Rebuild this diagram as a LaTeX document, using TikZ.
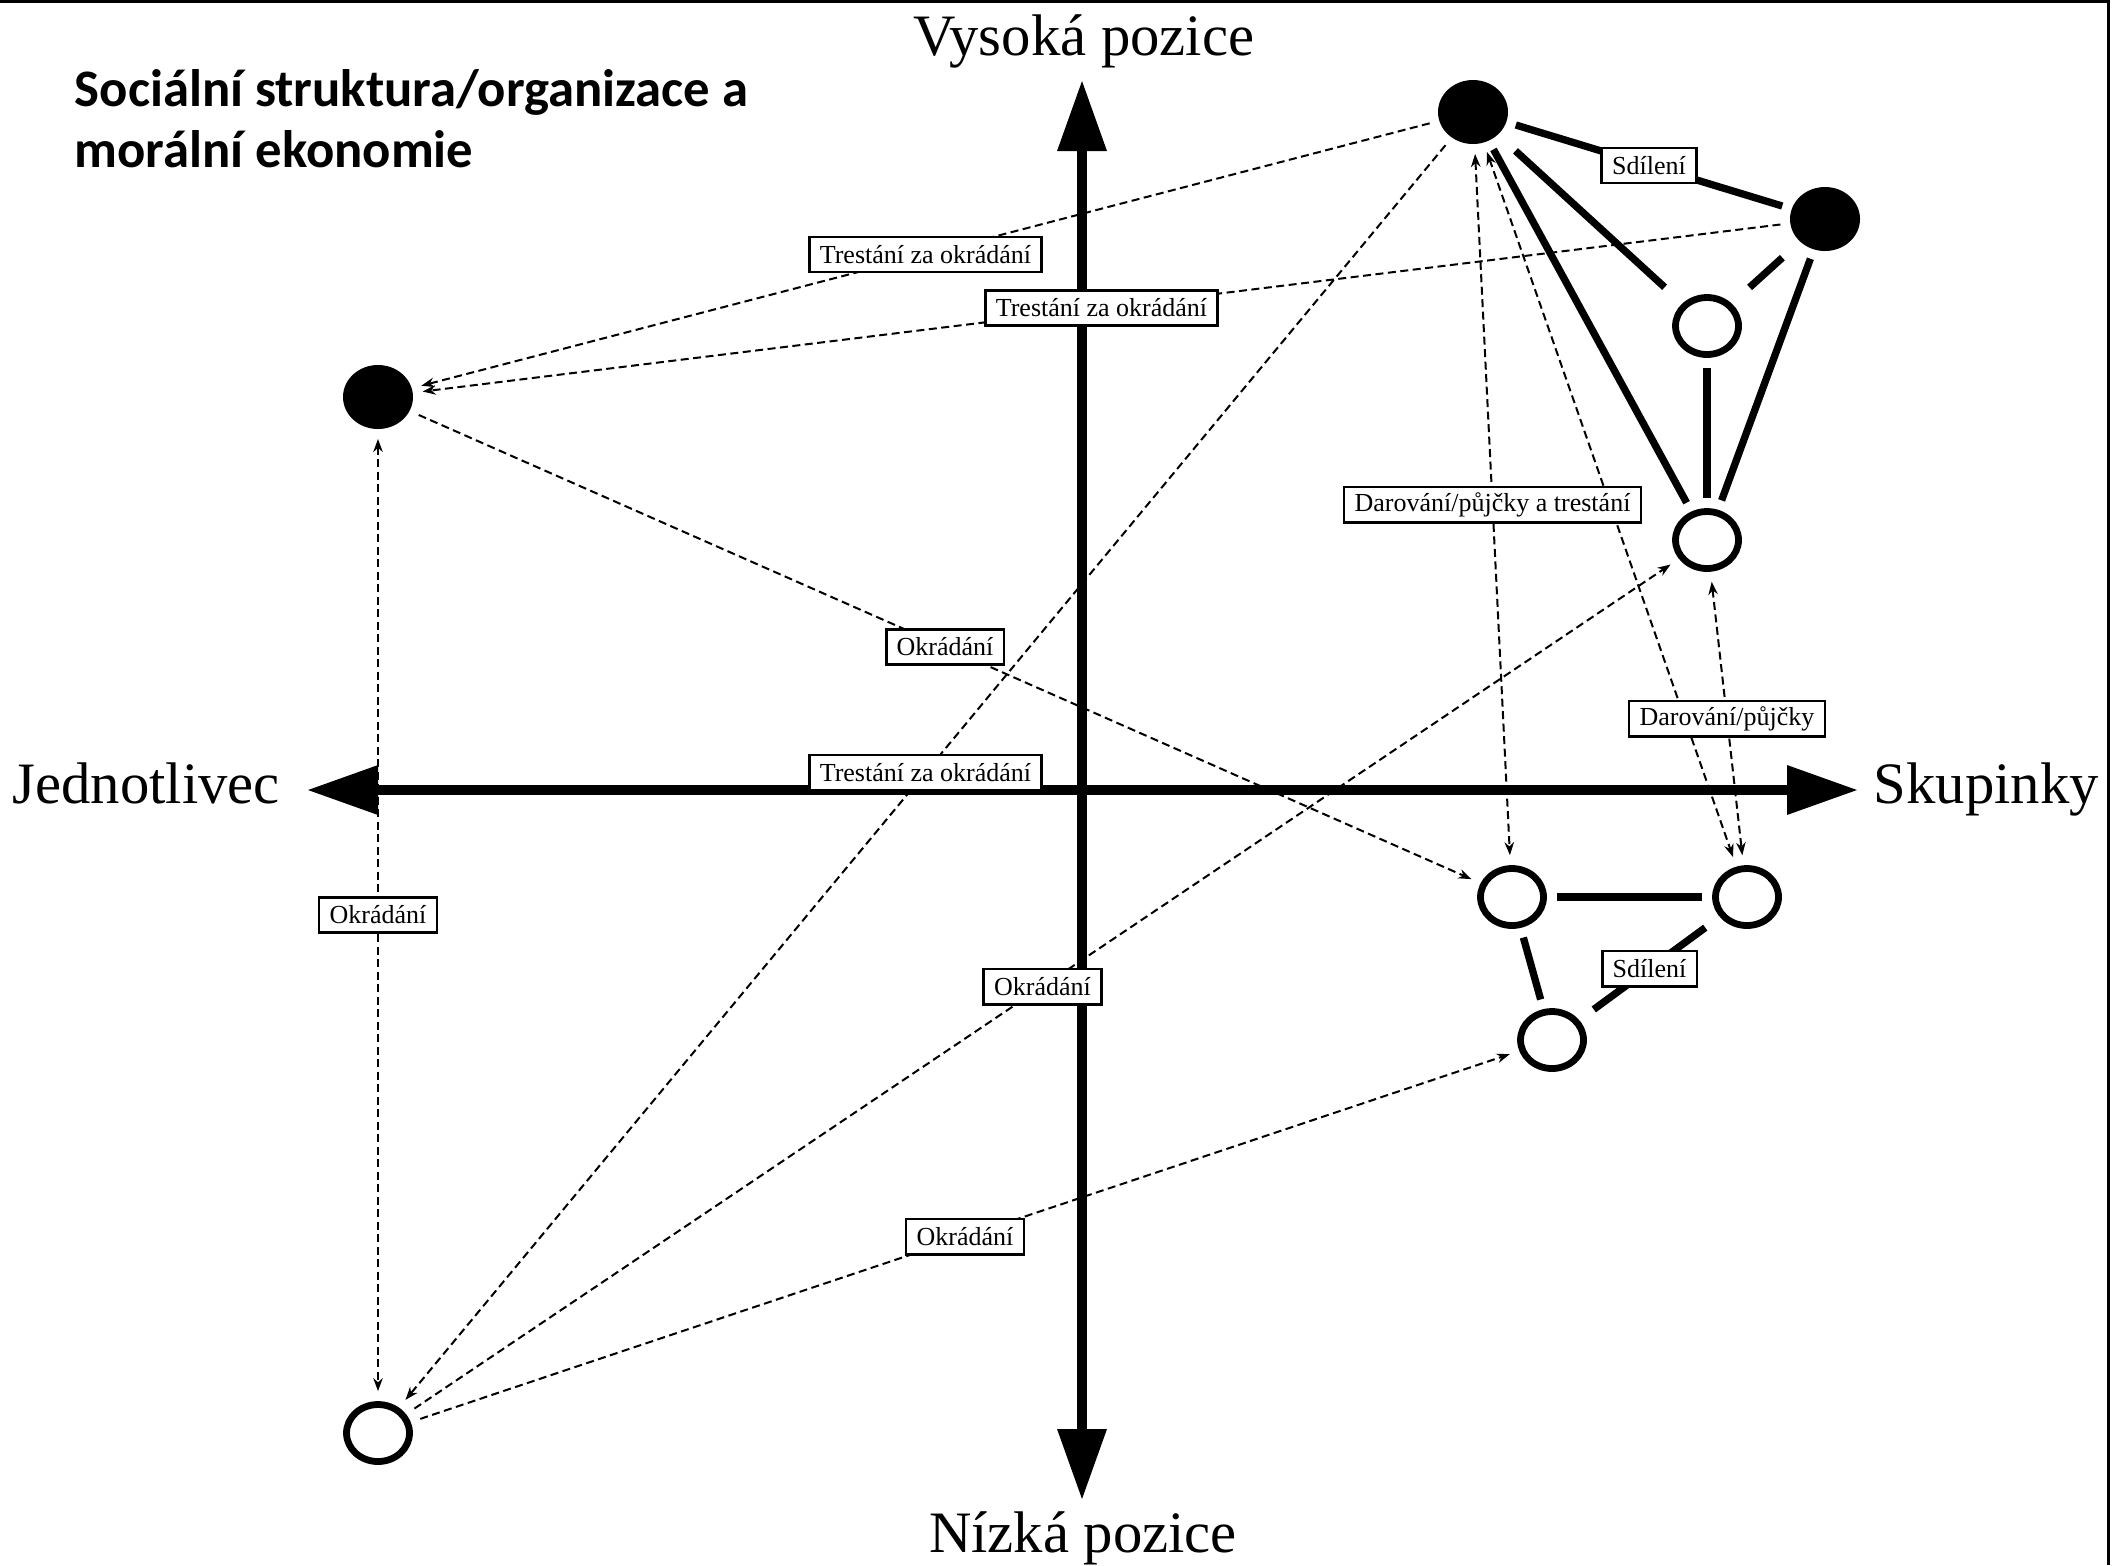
\documentclass[tikz,border=0pt]{standalone}
\usepackage{fontspec}
\setmainfont{Liberation Serif}
\newfontfamily\titlefont{Carlito}
\usetikzlibrary{shapes.geometric,arrows.meta}
\begin{document}
\begin{tikzpicture}[x=0.1mm,y=-0.1mm,
  full/.style={ellipse, fill=black, minimum width=7mm, minimum height=6.4mm, inner sep=0pt, outer sep=1mm},
  hollow/.style={ellipse, draw=black, line width=0.68mm, fill=white, minimum width=6.3mm, minimum height=5.7mm, inner sep=0pt, outer sep=1.34mm},
  tie/.style={line width=0.73mm},
  flow/.style={line width=0.2mm, dash pattern=on 0.8mm off 0.45mm, -{Stealth[length=1.3mm,width=0.95mm]}},
  biflow/.style={flow, {Stealth[length=1.3mm,width=0.95mm]}-{Stealth[length=1.3mm,width=0.95mm]}},
  tag/.style={draw, solid, line width=0.8pt, fill=white, font=\fontsize{7.4}{9}\selectfont, inner xsep=3pt, inner ysep=0pt, minimum height=10pt},
  axis/.style={line width=1mm, {Triangle[length=7.1mm,width=4.7mm]}-{Triangle[length=7.1mm,width=4.7mm]}},
  axlabel/.style={font=\fontsize{16.7}{19}\selectfont, inner sep=0pt},
  ttl/.style={font=\titlefont\bfseries\fontsize{15}{16}\selectfont, anchor=base west, inner sep=0pt}
]
\useasboundingbox (0,0) rectangle (2123,1565);
\draw[line width=0.35mm] (0,1.5) -- (2108.5,1.5) -- (2108.5,1565);

% title
\node[ttl] (t1) at (74,106) {Sociální struktura/organizace a};
\node[ttl] (t2) at (74,167) {morální ekonomie};

% axes
\coordinate (xl) at (307,790);
\coordinate (xr) at (1858,790);
\coordinate (yt) at (1082,80);
\coordinate (yb) at (1082,1500);
\draw[axis] (xl) -- (xr);
\draw[axis] (yt) -- (yb);
\node[axlabel, anchor=base] (vys) at (1084,55) {Vysoká pozice};
\node[axlabel, anchor=base] (niz) at (1083,1552) {Nízká pozice};
\node[axlabel, anchor=base west] (jed) at (12,803) {Jednotlivec};
\node[axlabel, anchor=base west] (sku) at (1873,803) {Skupinky};

% actors
\node[full] (A) at (1473,112) {};
\node[full] (B) at (1825,219) {};
\node[full] (C) at (378,397) {};
\node[hollow] (D) at (1707,326) {};
\node[hollow] (E) at (1707,540) {};
\node[hollow] (F) at (1512,897) {};
\node[hollow] (G) at (1747,897) {};
\node[hollow] (H) at (1552,1040) {};
\node[hollow] (I) at (378,1433) {};

% dashed flows
\draw[biflow] (A) -- (G);
\draw[flow] (A) -- node[tag]{Trestání za okrádání} (C);
\draw[flow] (B) -- node[tag]{Trestání za okrádání} (C);
\draw[flow] (A) -- node[tag]{Trestání za okrádání} (I);
\draw[flow] (C) -- node[tag]{Okrádání} (F);
\draw[biflow] (C) -- node[tag]{Okrádání} (I);
\draw[flow] (I) -- node[tag]{Okrádání} (E);
\draw[flow] (I) -- node[tag]{Okrádání} (H);
\draw[biflow] (A) -- node[tag]{Darování/půjčky a trestání} (F);
\draw[biflow] (E) -- node[tag]{Darování/půjčky} (G);

% solid ties
\draw[tie] (A) -- node[tag]{Sdílení} (B);
\draw[tie, shorten <=1.4mm, shorten >=1.4mm] (A) -- (D);
\draw[tie] (A) -- (E);
\draw[tie, shorten <=1.4mm, shorten >=1.4mm] (B) -- (D);
\draw[tie] (B) -- (E);
\draw[tie] (D) -- (E);
\draw[tie] (F) -- (G);
\draw[tie] (F) -- (H);
\draw[tie, shorten <=0.8mm, shorten >=0.8mm] (G) -- node[tag]{Sdílení} (H);
\end{tikzpicture}
\end{document}
